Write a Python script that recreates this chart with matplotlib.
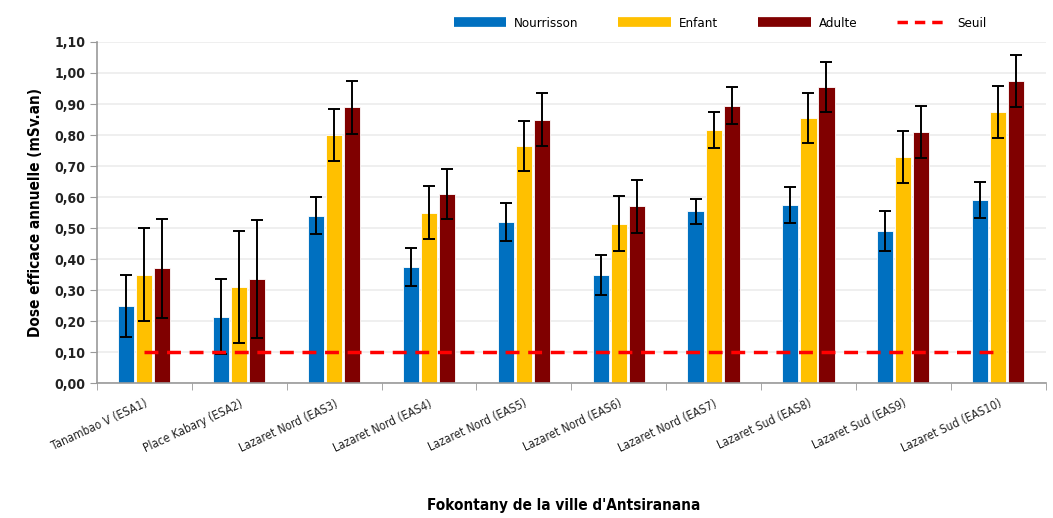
import matplotlib
matplotlib.use("Agg")
import matplotlib.pyplot as plt
from matplotlib.lines import Line2D
import numpy as np

# Condensed face of DejaVu Sans for all text
plt.rcParams["font.family"] = ["DejaVu Sans"]
plt.rcParams["font.stretch"] = "condensed"

sites = ["Tanambao V (ESA1)", "Place Kabary (ESA2)", "Lazaret Nord (EAS3)",
         "Lazaret Nord (EAS4)", "Lazaret Nord (EAS5)", "Lazaret Nord (EAS6)",
         "Lazaret Nord (EAS7)", "Lazaret Sud (EAS8)", "Lazaret Sud (EAS9)",
         "Lazaret Sud (EAS10)"]

nourrisson = [0.25, 0.215, 0.54, 0.375, 0.52, 0.35, 0.555, 0.575, 0.49, 0.59]
enfant = [0.35, 0.31, 0.80, 0.55, 0.765, 0.515, 0.815, 0.855, 0.73, 0.875]
adulte = [0.37, 0.335, 0.89, 0.61, 0.85, 0.57, 0.895, 0.955, 0.81, 0.975]

err_nourrisson = [0.10, 0.12, 0.06, 0.06, 0.06, 0.065, 0.04, 0.058, 0.065, 0.058]
err_enfant = [0.15, 0.18, 0.085, 0.085, 0.08, 0.09, 0.058, 0.08, 0.083, 0.083]
err_adulte = [0.16, 0.19, 0.085, 0.08, 0.085, 0.085, 0.06, 0.08, 0.085, 0.083]

seuil = 0.10

c_n, c_e, c_a = "#0070c0", "#ffc000", "#800000"

fig = plt.figure(figsize=(10.53, 5.18), dpi=100)
ax = fig.add_axes([0.092, 0.26, 0.901, 0.659])

x = np.arange(len(sites))
w = 0.17
step = 0.19
ekw = dict(ecolor="black", elinewidth=1.4, capsize=4, capthick=1.4)
for off, vals, errs, col in [(-step, nourrisson, err_nourrisson, c_n),
                             (0, enfant, err_enfant, c_e),
                             (step, adulte, err_adulte, c_a)]:
    ax.bar(x + off, vals, w, color=col, edgecolor="white", linewidth=0.6,
           yerr=errs, error_kw=ekw, zorder=2)

ax.plot([x[0], x[-1]], [seuil, seuil], color="#ff0000", lw=2.5,
        ls=(0, (4, 2.5)), zorder=3)

ax.set_xlim(-0.5, len(sites) - 0.5)
ax.set_ylim(0, 1.10)
ax.set_yticks(np.arange(0, 1.101, 0.1))
ax.set_yticklabels([f"{v:.2f}".replace(".", ",") for v in np.arange(0, 1.101, 0.1)],
                   fontsize=10, fontweight="bold", color="#222222")
ax.yaxis.grid(True, color="#ececec", lw=1.2, zorder=0)
ax.set_axisbelow(True)

ax.set_xticks(x)
ax.set_xticklabels(sites, rotation=25, ha="right", rotation_mode="anchor",
                   fontsize=8.5, color="#222222")
ax.tick_params(axis="x", length=0, pad=10)
ax.set_xticks(np.arange(-0.5, len(sites), 1), minor=True)
ax.tick_params(axis="x", which="minor", length=5, color="#999999")
ax.tick_params(axis="y", length=5, color="#999999", direction="out")

for s in ["top", "right"]:
    ax.spines[s].set_visible(False)
for s in ["left", "bottom"]:
    ax.spines[s].set_color("#999999")
    ax.spines[s].set_linewidth(1.2)

ax.set_ylabel("Dose efficace annuelle (mSv.an)", fontsize=11, fontweight="bold",
              labelpad=8)
fig.text(0.535, 0.015, "Fokontany de la ville d'Antsiranana", ha="center",
         fontsize=11, fontweight="bold")

handles = [Line2D([], [], color=c_n, lw=7, solid_capstyle="butt"),
           Line2D([], [], color=c_e, lw=7, solid_capstyle="butt"),
           Line2D([], [], color=c_a, lw=7, solid_capstyle="butt"),
           Line2D([], [], color="#ff0000", lw=2.5, ls=(0, (3, 2)))]
fig.legend(handles, ["Nourrisson", "Enfant", "Adulte", "Seuil"], loc="center right",
           bbox_to_anchor=(0.937, 0.955), ncol=4, frameon=False, fontsize=9.5,
           handlelength=4.0, columnspacing=3.0, handletextpad=0.6,
           borderpad=0, borderaxespad=0)

fig.savefig("out.png", dpi=100)
